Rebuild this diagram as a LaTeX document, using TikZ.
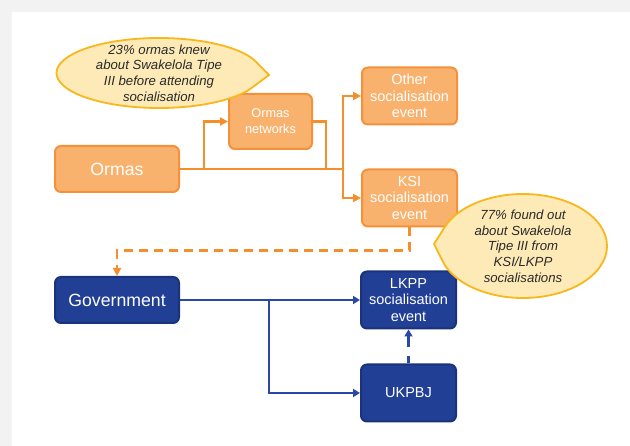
\documentclass[tikz,border=0pt]{standalone}
\usepackage{fontspec}
\setmainfont{Liberation Sans}
\usepackage{xcolor}
\usetikzlibrary{arrows.meta,positioning,shapes.callouts}

\definecolor{ofill}{HTML}{F9B26E}
\definecolor{oborder}{HTML}{F4913A}
\definecolor{ocol}{HTML}{F58F2C}
\definecolor{bfill}{HTML}{213F95}
\definecolor{bborder}{HTML}{1B3479}
\definecolor{bcol}{HTML}{2B47A6}
\definecolor{nfill}{HTML}{FDEAB7}
\definecolor{nborder}{HTML}{F8B81C}
\definecolor{ntext}{HTML}{2A2A2A}
\definecolor{frame}{HTML}{F2F2F2}

\begin{document}
\begin{tikzpicture}[
  x=1pt,y=-1pt,
  node distance=40pt,
  box/.style={draw,rounded corners=6pt,align=center,line width=2pt,text=white,inner sep=0pt,
    minimum width=95pt,minimum height=57pt,font=\fontsize{14.5}{16.3}\selectfont},
  obox/.style={box,draw=oborder,fill=ofill},
  bbox/.style={box,draw=bborder,fill=bfill},
  big/.style={minimum width=124pt,minimum height=46pt,font=\fontsize{17.7}{20}\selectfont},
  note/.style={ellipse callout,draw=nborder,fill=nfill,line width=1.8pt,text=ntext,align=center,
    inner xsep=0pt,inner ysep=-25pt,callout pointer arc=40,font=\itshape\fontsize{13.2}{15.7}\selectfont},
  oarrow/.style={draw=ocol,line width=2.6pt,-{Triangle[length=8pt,width=8pt]}},
  oline/.style={draw=ocol,line width=2.6pt},
  barrow/.style={draw=bcol,line width=2.2pt,-{Triangle[length=7pt,width=8pt]}},
  bline/.style={draw=bcol,line width=2.2pt}
]

% --- Slide frame ---
\useasboundingbox (0,0) rectangle (630,446);
\fill[frame] (0,0) rectangle (630,446);
\fill[white] (12,12) rectangle (630,446);

% --- Nodes ---
\node[obox,big]                 (ormas) at (117,169) {Ormas};
\node[obox,minimum width=83pt,minimum height=55pt,font=\fontsize{12.7}{16}\selectfont]
                                (nets)  at (270.5,121.5) {Ormas\\networks};
\node[obox]                     (other) at (409.5,96) {Other\\socialisation\\event};
\node[obox,below=43pt of other] (ksi)   {KSI\\socialisation\\event};

\node[bbox,big,below=83pt of ormas] (gov)   {Government};
\node[bbox,right=180pt of gov]      (lkpp)  {LKPP\\socialisation\\event};
\node[bbox,below=34pt of lkpp]      (ukpbj) {UKPBJ};

\coordinate (netin)    at (204,169);
\coordinate (netout)   at (326,169);
\coordinate (split)    at (343,169);
\coordinate (govsplit) at (gov.east -| 269,0);

% --- Orange flows ---
\draw[oline]  (ormas.east) -- (split);
\draw[oarrow] (netin) |- (nets.west);
\draw[oline]  (nets.east) -| (netout);
\draw[oarrow] (split) |- (other.west);
\draw[oarrow] (split) |- (ksi.west);
\draw[oarrow,dash pattern=on 9pt off 6pt] (ksi.south) -- ++(0,23) -| (gov.north);

% --- Blue flows ---
\draw[barrow] (gov.east) -- (lkpp.west);
\draw[barrow] (govsplit) |- (ukpbj.west);
\draw[barrow,dash pattern=on 11pt off 9pt,dash phase=4pt] (ukpbj.north) -- (lkpp.south);

% --- Callouts ---
\node[note,minimum width=205pt,minimum height=70pt,callout absolute pointer={(269,75)}]
  (knew) at (159,73) {23\% ormas knew\\about Swakelola Tipe\\III before attending\\socialisation};
\node[note,minimum width=168pt,minimum height=104pt,callout absolute pointer={(434,244)}]
  (found) at (523,246) {77\% found out\\about Swakelola\\Tipe III from\\KSI/LKPP\\socialisations};
\end{tikzpicture}
\end{document}
